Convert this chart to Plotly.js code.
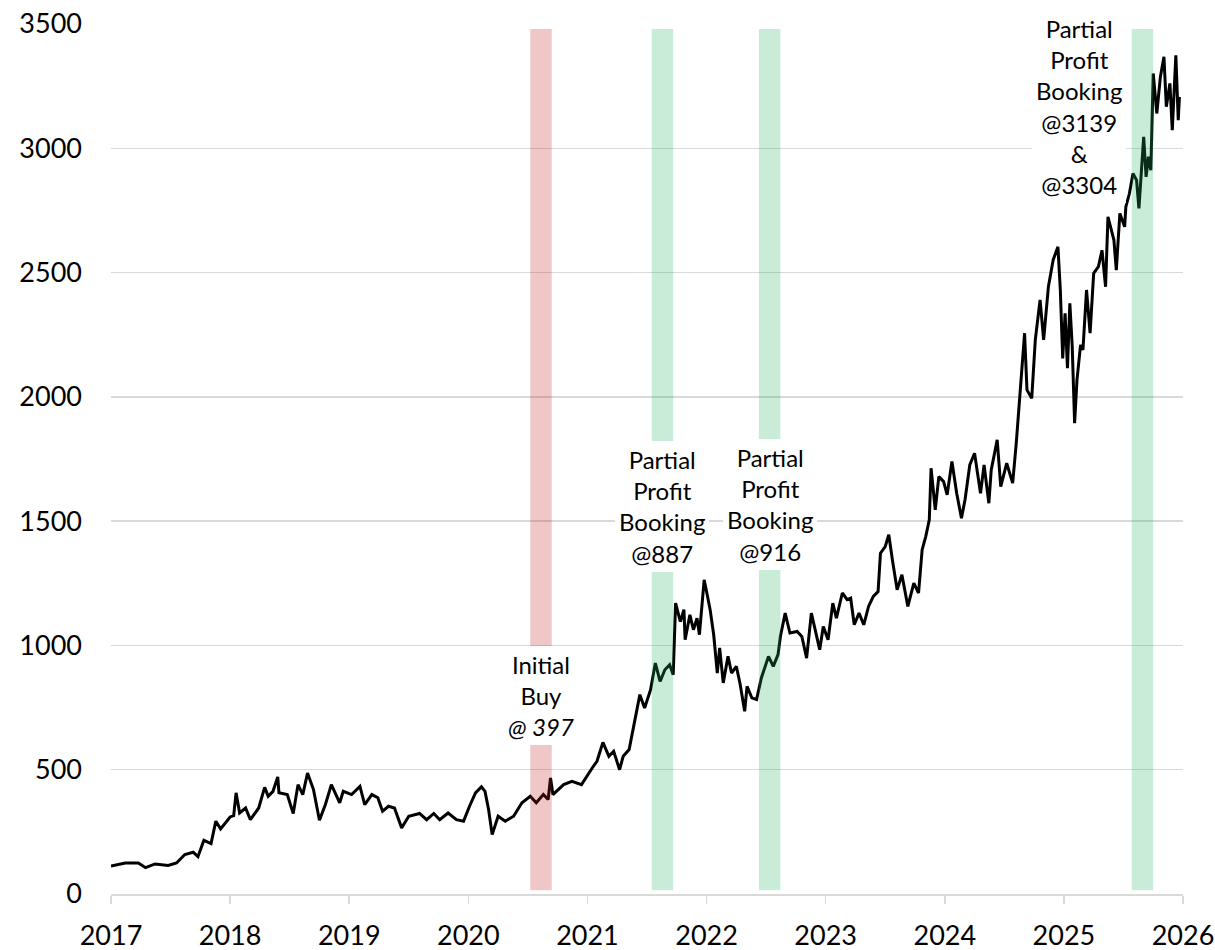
<!DOCTYPE html>
<html>
<head>
<meta charset="utf-8">
<script src="https://cdn.plot.ly/plotly-3.0.1.min.js"></script>
<style>
  html, body { margin: 0; padding: 0; background: #ffffff; }
  #chart { width: 1215px; height: 950px; }
</style>
</head>
<body>
<div id="chart"></div>
<script>
// Price series (decimal year, price)
const years = [
  2017.00, 2017.12, 2017.23, 2017.29, 2017.37, 2017.48, 2017.55, 2017.62, 2017.69, 2017.73,
  2017.78, 2017.84, 2017.88, 2017.92, 2018.00, 2018.03, 2018.05, 2018.08, 2018.13, 2018.17,
  2018.24, 2018.29, 2018.32, 2018.36, 2018.40, 2018.41, 2018.48, 2018.53, 2018.57, 2018.61,
  2018.65, 2018.70, 2018.75, 2018.80, 2018.85, 2018.92, 2018.95, 2019.02, 2019.09, 2019.13,
  2019.19, 2019.24, 2019.28, 2019.33, 2019.38, 2019.44, 2019.50, 2019.59, 2019.65, 2019.71,
  2019.76, 2019.83, 2019.90, 2019.96, 2020.01, 2020.06, 2020.11, 2020.14, 2020.17, 2020.20,
  2020.25, 2020.31, 2020.38, 2020.45, 2020.52, 2020.57, 2020.63, 2020.67, 2020.69, 2020.71,
  2020.80, 2020.87, 2020.95, 2021.01, 2021.04, 2021.08, 2021.13, 2021.18, 2021.22, 2021.27,
  2021.30, 2021.35, 2021.40, 2021.44, 2021.48, 2021.53, 2021.57, 2021.61, 2021.65, 2021.69,
  2021.72, 2021.74, 2021.78, 2021.81, 2021.82, 2021.86, 2021.89, 2021.92, 2021.94, 2021.98,
  2022.00, 2022.03, 2022.06, 2022.09, 2022.11, 2022.14, 2022.18, 2022.21, 2022.25, 2022.28,
  2022.32, 2022.34, 2022.38, 2022.42, 2022.46, 2022.52, 2022.56, 2022.60, 2022.62, 2022.66,
  2022.70, 2022.76, 2022.80, 2022.84, 2022.88, 2022.91, 2022.95, 2022.98, 2023.02, 2023.06,
  2023.09, 2023.14, 2023.18, 2023.21, 2023.24, 2023.28, 2023.32, 2023.36, 2023.40, 2023.44,
  2023.46, 2023.50, 2023.53, 2023.56, 2023.60, 2023.64, 2023.69, 2023.74, 2023.78, 2023.81,
  2023.84, 2023.87, 2023.885, 2023.92, 2023.95, 2023.99, 2024.02, 2024.06, 2024.10, 2024.14,
  2024.17, 2024.21, 2024.25, 2024.30, 2024.33, 2024.37, 2024.39, 2024.44, 2024.47, 2024.52,
  2024.57, 2024.60, 2024.63, 2024.67, 2024.69, 2024.73, 2024.76, 2024.80, 2024.83, 2024.87,
  2024.91, 2024.95, 2024.97, 2024.99, 2025.01, 2025.03, 2025.05, 2025.07, 2025.09, 2025.11,
  2025.14, 2025.16, 2025.19, 2025.22, 2025.25, 2025.29, 2025.32, 2025.35, 2025.37, 2025.42,
  2025.44, 2025.47, 2025.51, 2025.52, 2025.55, 2025.58, 2025.61, 2025.63, 2025.67, 2025.69,
  2025.71, 2025.73, 2025.75, 2025.78, 2025.81, 2025.84, 2025.86, 2025.89, 2025.91, 2025.94,
  2025.96, 2025.97
];
const prices = [
  112, 125, 125, 106, 121, 115, 125, 159, 168, 150,
  216, 203, 293, 262, 310, 315, 407, 326, 346, 299,
  346, 429, 393, 413, 471, 407, 400, 324, 440, 400,
  487, 420, 297, 360, 440, 367, 413, 400, 433, 360,
  400, 387, 333, 353, 346, 266, 313, 324, 299, 324,
  299, 326, 299, 293, 353, 407, 431, 413, 340, 239,
  313, 293, 313, 367, 393, 367, 400, 380, 467, 400,
  440, 453, 440, 487, 507, 534, 610, 554, 574, 500,
  554, 581, 701, 802, 748, 822, 929, 855, 902, 922,
  882, 1170, 1096, 1144, 1023, 1123, 1063, 1110, 1043, 1264,
  1217, 1144, 1043, 889, 990, 849, 956, 889, 916, 849,
  735, 835, 789, 782, 869, 956, 916, 963, 1036, 1130,
  1050, 1056, 1036, 949, 1130, 1063, 983, 1076, 1023, 1170,
  1110, 1211, 1184, 1190, 1083, 1130, 1083, 1157, 1197, 1217,
  1371, 1398, 1445, 1345, 1224, 1284, 1157, 1251, 1211, 1385,
  1438, 1505, 1713, 1545, 1679, 1659, 1606, 1740, 1612, 1512,
  1586, 1726, 1773, 1612, 1726, 1572, 1706, 1827, 1639, 1733,
  1653, 1813, 2001, 2256, 2028, 1994, 2229, 2390, 2229, 2443,
  2551, 2604, 2430, 2155, 2336, 2115, 2376, 2202, 1894, 2068,
  2209, 2189, 2430, 2256, 2497, 2524, 2590, 2443, 2724, 2631,
  2510, 2738, 2684, 2764, 2818, 2899, 2872, 2758, 3046, 2885,
  2966, 2912, 3301, 3140, 3287, 3368, 3167, 3261, 3073, 3374,
  3113, 3207
];

// Highlighted trade periods (decimal years) and their notes
const bandStart = [2020.52, 2021.54, 2022.44, 2025.57];
const bandEnd   = [2020.70, 2021.72, 2022.62, 2025.75];
const bandKind  = ["buy", "sell", "sell", "sell"];
const bandTop = 3480;
const bandBottom = 15;

const noteText = [
  "Initial<br>Buy<br><i>@ 397</i>",
  "Partial<br>Profit<br>Booking<br>@887",
  "Partial<br>Profit<br>Booking<br>@916",
  "Partial<br>Profit<br>Booking<br>@3139<br>&<br>@3304"
];
const noteX = [2020.61, 2021.63, 2022.53, 2025.13];
const noteY = [800, 1557, 1567, 3170];

const yTicks = [0, 500, 1000, 1500, 2000, 2500, 3000, 3500];
const xTicks = [2017, 2018, 2019, 2020, 2021, 2022, 2023, 2024, 2025, 2026];

const kindColor = { buy: "rgb(192,32,32)", sell: "rgb(35,179,99)" };

const shapes = bandStart.map((s, i) => ({
  type: "rect", xref: "x", yref: "y",
  x0: s, x1: bandEnd[i], y0: bandBottom, y1: bandTop,
  fillcolor: kindColor[bandKind[i]], opacity: 0.25,
  line: { width: 0 }, layer: "above"
}));

const annotations = noteText.map((t, i) => ({
  x: noteX[i], y: noteY[i], xref: "x", yref: "y",
  text: t, showarrow: false,
  xanchor: "center", yanchor: "middle",
  bgcolor: "#ffffff", borderpad: 4, borderwidth: 0,
  font: { family: "Lato, 'Open Sans', sans-serif", size: 24, color: "#000000" }
}));

const trace = {
  x: years, y: prices, type: "scatter", mode: "lines",
  line: { color: "#000000", width: 3 },
  hoverinfo: "x+y", showlegend: false
};

const layout = {
  width: 1215, height: 950,
  margin: { l: 111, r: 32, t: 23.5, b: 55.5 },
  paper_bgcolor: "#ffffff", plot_bgcolor: "#ffffff",
  font: { family: "Lato, 'Open Sans', sans-serif", size: 27, color: "#000000" },
  xaxis: {
    range: [2017, 2026], tickmode: "array", tickvals: xTicks,
    ticktext: xTicks.map(String),
    showgrid: false, zeroline: false,
    showline: true, linecolor: "#d9d9d9", linewidth: 1.5,
    ticks: "outside", ticklen: 8, tickwidth: 1.5, tickcolor: "#d9d9d9",
    ticklabelstandoff: 9,
    tickfont: { size: 27, color: "#000000" }
  },
  yaxis: {
    range: [0, 3500], tickmode: "array", tickvals: yTicks,
    ticktext: yTicks.map(String),
    showgrid: true, gridcolor: "#d9d9d9", gridwidth: 1.5,
    zeroline: false, showline: false, ticks: "",
    ticklabelstandoff: 28,
    tickfont: { size: 27, color: "#000000" }
  },
  shapes: shapes,
  annotations: annotations
};

Plotly.newPlot("chart", [trace], layout, { displayModeBar: false, staticPlot: true });
</script>
</body>
</html>
